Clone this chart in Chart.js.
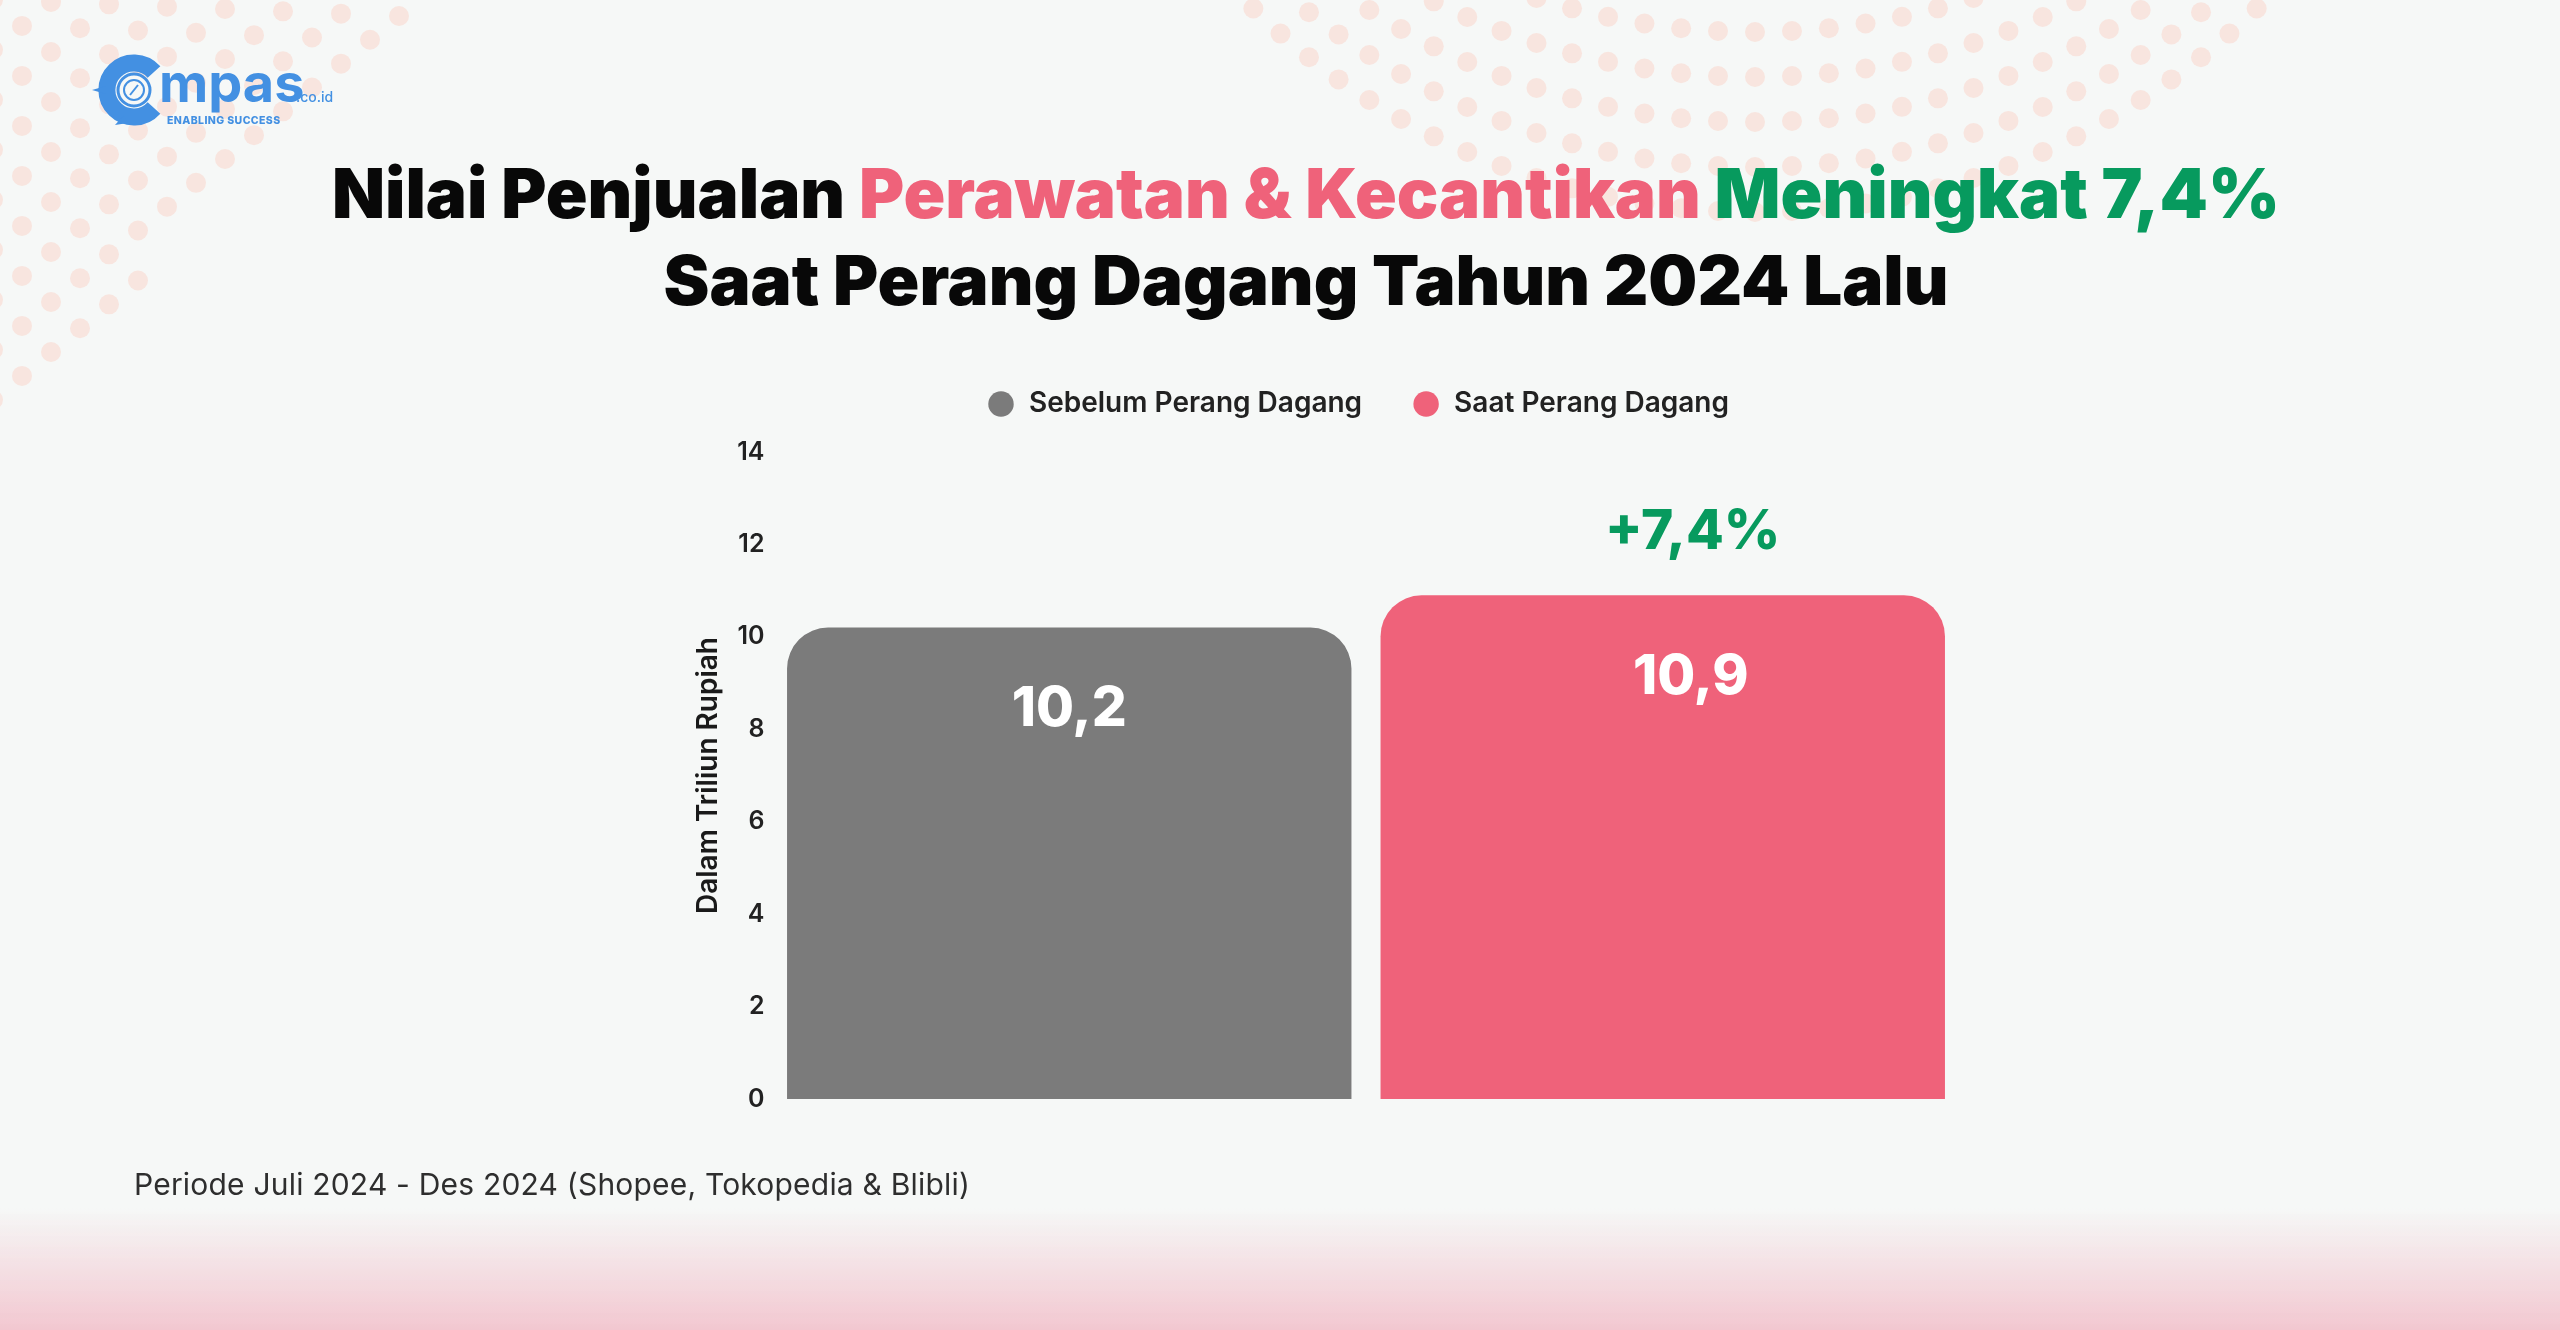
<!DOCTYPE html>
<html lang="id">
<head>
<meta charset="utf-8">
<title>Nilai Penjualan Perawatan & Kecantikan</title>
<script src="https://cdn.jsdelivr.net/npm/chart.js@4.4.1/dist/chart.umd.min.js"></script>
<style>
  html, body { margin: 0; padding: 0; }
  body {
    width: 2560px; height: 1330px; position: relative; overflow: hidden;
    background: #f6f8f7; font-family: Inter, "Noto Sans", sans-serif;
  }
  #dots { position: absolute; left: 0; top: 0; }
  .fade {
    position: absolute; left: 0; right: 0; bottom: 0; height: 122px;
    background: linear-gradient(to bottom, rgba(242, 200, 210, 0), #f2c7d0);
  }
  #logo { position: absolute; left: 80px; top: 45px; }
  h1 {
    position: absolute; left: 26px; top: 150px; width: 2560px; margin: 0;
    text-align: center; font-weight: 900; font-size: 69px; line-height: 87px;
    color: #080808;
  }
  h1 .pink { color: #ef627a; }
  h1 .green { color: #079a5e; }
  .chart-box { position: absolute; left: 692px; top: 340px; width: 1332px; height: 782px; }
  .source {
    position: absolute; left: 134px; top: 1166px; font-size: 30px; line-height: 36px;
    color: #2e2e2e; font-weight: 400; letter-spacing: 0.2px;
  }
</style>
</head>
<body>
<canvas id="dots" width="2560" height="1330"></canvas>
<div class="fade"></div>

<svg id="logo" width="270" height="95" viewBox="0 0 270 95">
  <path d="M 74 27 A 27 27 0 1 0 74 63" fill="none" stroke="#4390e2" stroke-width="17"/>
  <polygon points="12,45 26,41 26,49" fill="#4390e2"/>
  <polygon points="35,80 44,70 48,78" fill="#4390e2"/>
  <circle cx="54" cy="45" r="16" fill="#f6f8f7" stroke="#4390e2" stroke-width="3"/>
  <circle cx="54" cy="45" r="10" fill="none" stroke="#4390e2" stroke-width="2"/>
  <line x1="50" y1="50" x2="58" y2="40" stroke="#4390e2" stroke-width="2"/>
  <text x="79" y="57" font-family="Inter" font-weight="700" font-size="54" fill="#4390e2">mpas</text>
  <text x="216" y="57" font-family="Inter" font-weight="500" font-size="14" fill="#4390e2">.co.id</text>
  <text x="87" y="79" font-family="Inter" font-weight="800" font-size="10.5" fill="#4390e2" letter-spacing="0.4">ENABLING SUCCESS</text>
</svg>

<h1>Nilai Penjualan <span class="pink">Perawatan &amp; Kecantikan</span> <span class="green">Meningkat 7,4%</span><br>Saat Perang Dagang Tahun 2024 Lalu</h1>

<div class="chart-box"><canvas id="chart"></canvas></div>

<div class="source">Periode Juli 2024 - Des 2024 (Shopee, Tokopedia &amp; Blibli)</div>

<script>
// data
const categories = ['Juli - Des 2024'];
const seriesNames = ['Sebelum Perang Dagang', 'Saat Perang Dagang'];
const sebelumValues = [10.2];
const saatValues = [10.9];
const growthLabel = '+7,4%';
const yTicks = [0, 2, 4, 6, 8, 10, 12, 14];
const yTitle = 'Dalam Triliun Rupiah';

const grey = '#7b7b7b';
const pink = '#ef627a';
const green = '#079a5e';

// decorative dot pattern in the background
function drawDots() {
    const c = document.getElementById('dots').getContext('2d');
    c.fillStyle = '#f8e5df';
    const dot = (x, y) => {
        c.beginPath();
        c.arc(x, y, 10, 0, Math.PI * 2);
        c.fill();
    };
    // top-left corner: staggered grid
    for (let r = 0; r < 20; r++) {
        const y = 25 * r;
        const shift = r % 2 ? 29 : 0;
        for (let x = -7 + shift; x < 460; x += 58) {
            const yy = y + x * 0.04;
            if (x + yy < 420 && x > -10) dot(x, yy);
        }
    }
    // top centre: arcs
    const R = 720;
    const step = 37 / R;
    for (let k = -1; k <= 4; k++) {
        const cy = -688 + 45 * k;
        for (let n = -40; n <= 40; n++) {
            const a = Math.PI / 2 + n * step;
            const x = 1755 + R * Math.cos(a);
            const y = cy + R * Math.sin(a);
            if (y > -8) dot(x, y);
        }
    }
}
drawDots();

Chart.defaults.font.family = 'Inter';
Chart.defaults.color = '#222';

const valueLabels = {
    id: 'valueLabels',
    afterDatasetsDraw(chart) {
        const ctx = chart.ctx;
        ctx.save();
        ctx.textAlign = 'center';
        ctx.textBaseline = 'middle';
        ctx.font = '800 55px Inter';
        chart.data.datasets.forEach((ds, i) => {
            const shift = i === 1 ? 28 : 0;
            chart.getDatasetMeta(i).data.forEach((bar, j) => {
                ctx.fillStyle = '#ffffff';
                ctx.fillText(ds.data[j].toFixed(1).replace('.', ','), bar.x + shift, bar.y + 82);
            });
        });
        const last = chart.getDatasetMeta(1).data[0];
        ctx.fillStyle = green;
        ctx.fillText(growthLabel, last.x + 30, last.y - 63);
        ctx.restore();
    }
};

// push the plot down a little below the legend
const legendGap = {
    id: 'legendGap',
    beforeInit(chart) {
        const fit = chart.legend.fit;
        chart.legend.fit = function() {
            fit.call(this);
            this.height += 24;
        };
    }
};

new Chart(document.getElementById('chart'), {
    type: 'bar',
    data: {
        labels: categories,
        datasets: [
            { label: seriesNames[0], data: sebelumValues, backgroundColor: grey },
            { label: seriesNames[1], data: saatValues, backgroundColor: pink }
        ]
    },
    options: {
        responsive: true,
        maintainAspectRatio: false,
        animation: false,
        layout: { padding: { top: 0, bottom: 19, left: 0, right: 0 } },
        datasets: {
            bar: {
                categoryPercentage: 1,
                barPercentage: 0.951,
                borderRadius: 41,
                borderSkipped: 'start'
            }
        },
        plugins: {
            legend: {
                position: 'top',
                labels: {
                    usePointStyle: true,
                    pointStyle: 'circle',
                    boxHeight: 18,
                    padding: 50,
                    color: '#222',
                    font: { size: 28, weight: '600' }
                }
            },
            tooltip: { enabled: false }
        },
        scales: {
            x: { display: false },
            y: {
                min: yTicks[0],
                max: yTicks[yTicks.length - 1],
                afterBuildTicks: s => { s.ticks = yTicks.map(v => ({ value: v })); },
                grid: { display: false, drawTicks: false },
                border: { display: false },
                ticks: { padding: 8, color: '#222', font: { size: 25, weight: '600' } },
                title: {
                    display: true,
                    text: yTitle,
                    color: '#1a1a1a',
                    padding: 0,
                    font: { size: 28, weight: '600' }
                },
                afterFit: s => { s.width = 80.5; }
            },
            yRight: {
                position: 'right',
                display: true,
                grid: { display: false, drawTicks: false },
                border: { display: false },
                ticks: { display: false },
                afterFit: s => { s.width = 64.5; }
            }
        }
    },
    plugins: [valueLabels, legendGap]
});
</script>
</body>
</html>
